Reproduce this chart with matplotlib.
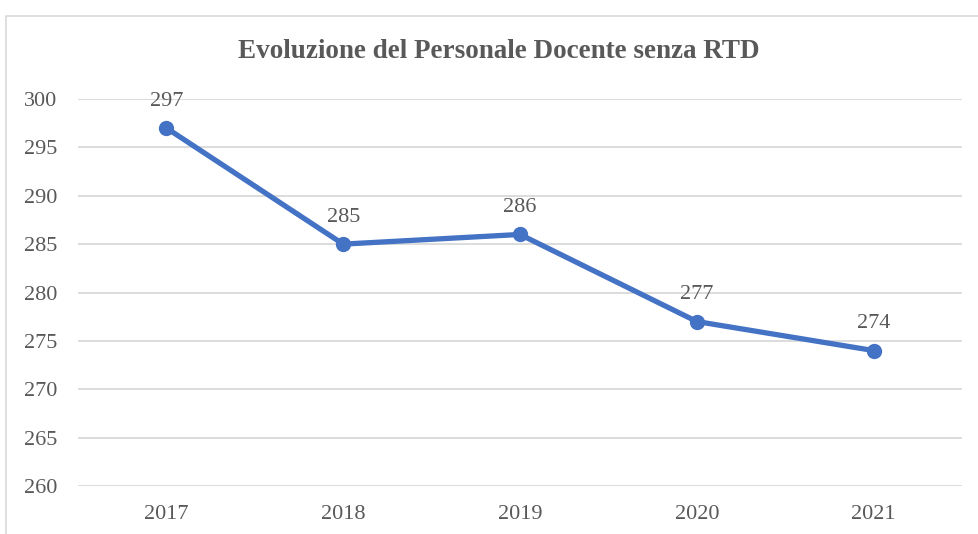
import matplotlib.pyplot as plt
from matplotlib.patches import Rectangle

years = ["2017", "2018", "2019", "2020", "2021"]
docenti = [297, 285, 286, 277, 274]
y_ticks = [260, 265, 270, 275, 280, 285, 290, 295, 300]

LINE_COLOR = "#4472C4"
TEXT_COLOR = "#595959"
GRID_COLOR = "#D9D9D9"

plt.rcParams["font.family"] = ["Liberation Serif", "DejaVu Serif"]

W, H = 979, 534
fig = plt.figure(figsize=(W / 100, H / 100), dpi=100)

# outer chart frame (cropped on right and bottom like the original)
fig.patches.append(Rectangle((6 / W, -0.1), 1.2, 1 - 16 / H + 0.1,
                             transform=fig.transFigure, fill=False,
                             edgecolor=GRID_COLOR, linewidth=1.2))

ax = fig.add_axes([78 / W, 1 - 486 / H, (962 - 78) / W, (486 - 99) / H])

x = list(range(len(years)))
ax.plot(x, docenti, color=LINE_COLOR, linewidth=3.8, marker="o",
        markersize=10, solid_capstyle="round", zorder=3)

for xi, v in zip(x, docenti):
    ax.annotate(str(v), (xi, v), xytext=(0, 16), textcoords="offset points",
                ha="center", va="baseline", fontsize=16, color=TEXT_COLOR)

ax.set_xlim(-0.5, len(years) - 0.5)
ax.set_ylim(260, 300)
ax.set_yticks(y_ticks)
ax.set_xticks(x)
ax.set_xticklabels(years)
ax.grid(axis="y", color=GRID_COLOR, linewidth=1.3)
ax.set_axisbelow(True)
for s in ax.spines.values():
    s.set_visible(False)
ax.tick_params(length=0, labelsize=16, colors=TEXT_COLOR)
ax.tick_params(axis="x", pad=14)
ax.tick_params(axis="y", pad=15)

fig.text(499 / W, 1 - 51 / H, "Evoluzione del Personale Docente senza RTD",
         ha="center", va="center", fontsize=19.5, fontweight="bold",
         color=TEXT_COLOR)

fig.savefig("out.png", dpi=100)
